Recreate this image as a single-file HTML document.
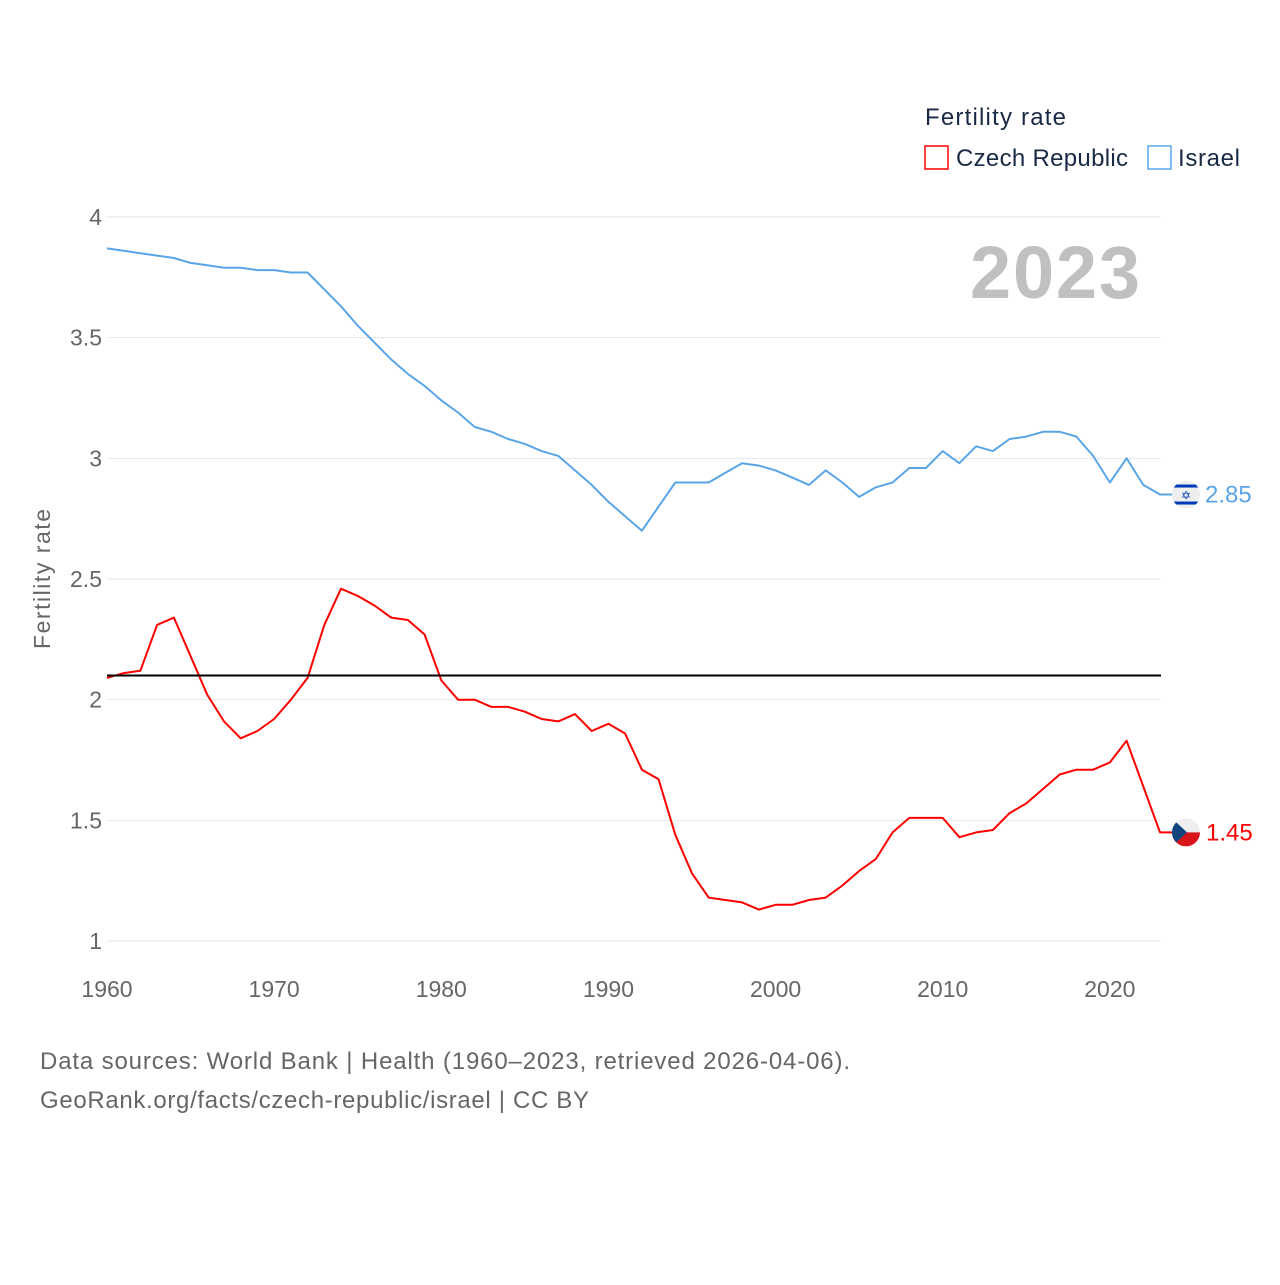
<!DOCTYPE html>
<html><head><meta charset="utf-8"><style>
body{margin:0;background:#fff;font-family:"Liberation Sans",sans-serif}
svg text{font-family:"Liberation Sans",sans-serif}
</style></head><body>
<svg id="chart" width="1280" height="1280" xmlns="http://www.w3.org/2000/svg">
<g id="grid"></g><g id="lines"></g>
<text x="1140" y="298" text-anchor="end" font-size="74" font-weight="bold" fill="#c0c0c0" textLength="170">2023</text>
<text x="50" y="579" transform="rotate(-90 50 579)" text-anchor="middle" font-size="23" fill="#666" textLength="140">Fertility rate</text>
<text x="925" y="125" font-size="24" fill="#1a2a44" textLength="141">Fertility rate</text>
<g><rect x="925" y="146" width="23" height="23" fill="none" stroke="#ff0000" stroke-width="1.5"/><text x="956" y="166" font-size="24" fill="#1a2a44" textLength="172">Czech Republic</text></g>
<g><rect x="1148" y="146" width="23" height="23" fill="none" stroke="#5aa5e8" stroke-width="1.5"/><text x="1178" y="166" font-size="24" fill="#1a2a44" textLength="62">Israel</text></g>
<text x="40" y="1069" font-size="24" fill="#666" textLength="810">Data sources: World Bank | Health (1960–2023, retrieved 2026-04-06).</text>
<text x="40" y="1108" font-size="24" fill="#666" textLength="549">GeoRank.org/facts/czech-republic/israel | CC BY</text>
</svg>
<script>
const years=[];for(let y=1960;y<=2023;y++)years.push(y);
const israel=[3.87,3.86,3.85,3.84,3.83,3.81,3.80,3.79,3.79,3.78,3.78,3.77,3.77,3.70,3.63,3.55,3.48,3.41,3.35,3.30,3.24,3.19,3.13,3.11,3.08,3.06,3.03,3.01,2.95,2.89,2.82,2.76,2.70,2.80,2.90,2.90,2.90,2.94,2.98,2.97,2.95,2.92,2.89,2.95,2.90,2.84,2.88,2.90,2.96,2.96,3.03,2.98,3.05,3.03,3.08,3.09,3.11,3.11,3.09,3.01,2.90,3.00,2.89,2.85];
const czech=[2.09,2.11,2.12,2.31,2.34,2.18,2.02,1.91,1.84,1.87,1.92,2.00,2.09,2.31,2.46,2.43,2.39,2.34,2.33,2.27,2.08,2.00,2.00,1.97,1.97,1.95,1.92,1.91,1.94,1.87,1.90,1.86,1.71,1.67,1.44,1.28,1.18,1.17,1.16,1.13,1.15,1.15,1.17,1.18,1.23,1.29,1.34,1.45,1.51,1.51,1.51,1.43,1.45,1.46,1.53,1.57,1.63,1.69,1.71,1.71,1.74,1.83,1.64,1.45];
const yTicks=[1,1.5,2,2.5,3,3.5,4];
const xTicks=[1960,1970,1980,1990,2000,2010,2020];
const replacement=2.1;
const NS="http://www.w3.org/2000/svg";
const X=v=>107+(v-1960)*(1160-107)/63;
const Y=v=>941-(v-1)*(941-217)/3;
function mk(t,a,p){const e=document.createElementNS(NS,t);for(const k in a)e.setAttribute(k,a[k]);p.appendChild(e);return e;}
const grid=document.getElementById('grid'),lines=document.getElementById('lines');
yTicks.forEach(v=>{
 const l=mk('line',{x1:107,x2:1161,y1:Y(v),y2:Y(v),stroke:'#e6e6e6','stroke-width':1},grid);
 
 
 const t=mk('text',{x:102,y:Y(v)+8,'text-anchor':'end','font-size':23,fill:'#666'},grid);t.textContent=v;
 
 
});
xTicks.forEach(v=>{
 const t=mk('text',{x:X(v),y:997,'text-anchor':'middle','font-size':23,fill:'#666'},grid);t.textContent=v;
 
 
});
function series(vals,color,name){
 let d=vals.map((v,i)=>(i?'L':'M')+X(years[i]).toFixed(1)+','+Y(v).toFixed(1)).join(' ');
 d+=' L1172,'+Y(vals[vals.length-1]).toFixed(1);
 const p=mk('path',{d:d,fill:'none',stroke:color,'stroke-width':2,'stroke-linejoin':'round'},lines);
 
 
}
series(israel,'#5aa5e8','israel-line');
series(czech,'#ff0000','czech-line');
const ref=mk('line',{x1:107,x2:1161,y1:Y(replacement),y2:Y(replacement),stroke:'#000','stroke-width':2},lines);


const yi=Y(israel[israel.length-1]),yc=Y(czech[czech.length-1]);
const fi=mk('g',{},lines);


const ci=mk('clipPath',{id:'ci'},fi);mk('circle',{cx:1186,cy:yi,r:14},ci);
const gi=mk('g',{'clip-path':'url(#ci)'},fi);
mk('rect',{x:1172,y:yi-14,width:28,height:28,fill:'#eee'},gi);
mk('rect',{x:1172,y:yi-10,width:28,height:3,fill:'#0038b8'},gi);
mk('rect',{x:1172,y:yi+7,width:28,height:3,fill:'#0038b8'},gi);
mk('text',{x:1186,y:yi+5,'text-anchor':'middle','font-size':12,fill:'#0038b8'},gi).textContent='✡';
const li=mk('text',{x:1205,y:yi+8,'font-size':24,fill:'#5aa5e8'},lines);li.textContent=israel[israel.length-1].toFixed(2);


const fc=mk('g',{},lines);


const cp=mk('clipPath',{id:'cc'},fc);mk('circle',{cx:1186,cy:yc,r:14},cp);
const gc=mk('g',{'clip-path':'url(#cc)'},fc);
mk('rect',{x:1172,y:yc-14,width:28,height:14,fill:'#eee'},gc);
mk('rect',{x:1172,y:yc,width:28,height:14,fill:'#d7141a'},gc);
mk('polygon',{points:`1172,${yc-14} 1187,${yc} 1172,${yc+14}`,fill:'#11457e'},gc);
const lc=mk('text',{x:1206,y:yc+8,'font-size':24,fill:'#ff0000'},lines);lc.textContent=czech[czech.length-1].toFixed(2);


</script>
</body></html>
